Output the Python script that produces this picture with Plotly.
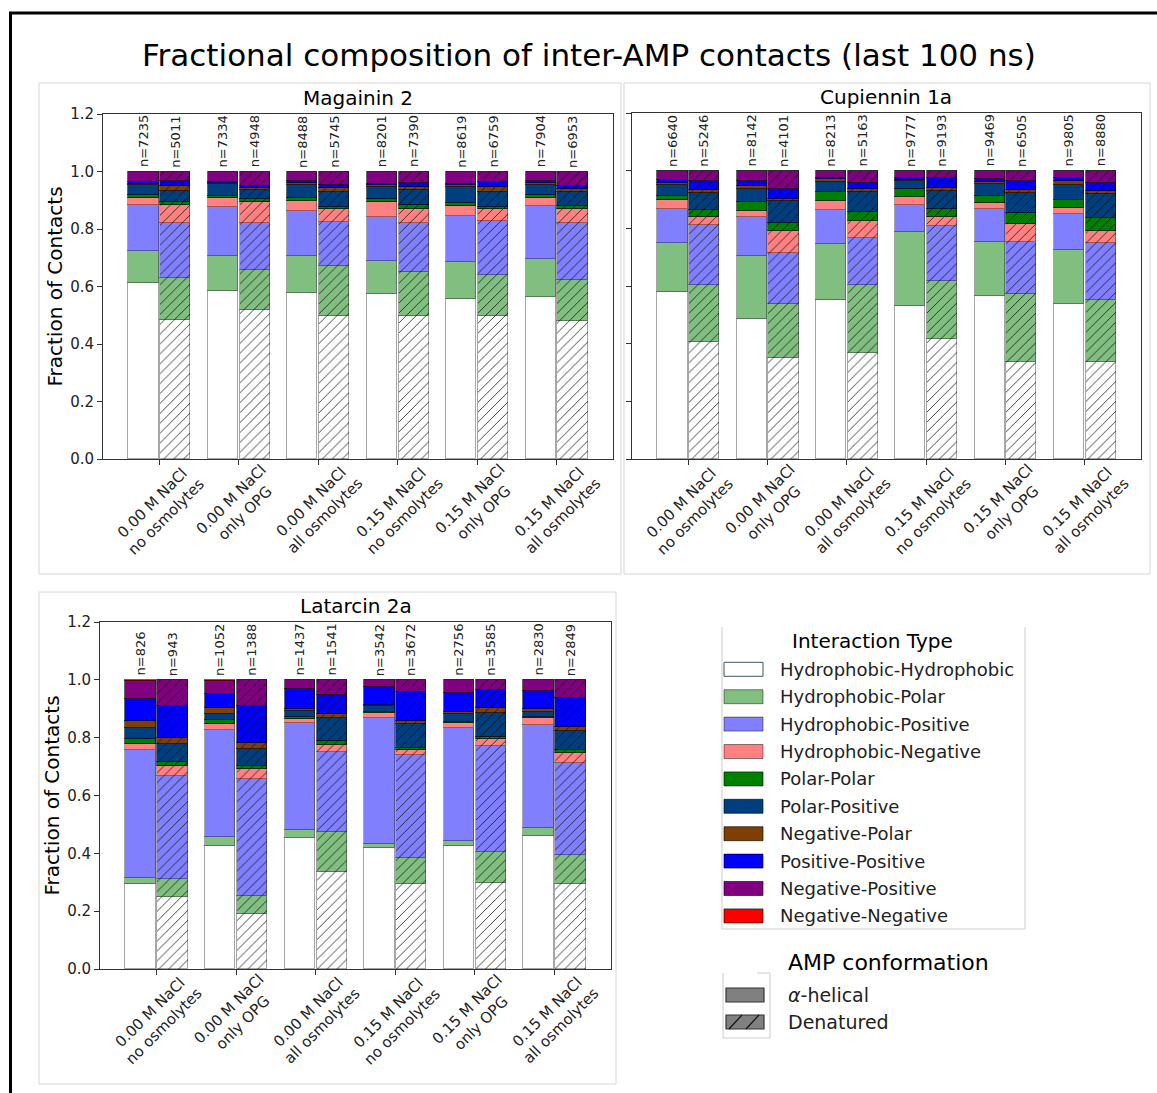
import plotly.graph_objects as go

W, H = 1157, 1093

# ---------------------------------------------------------------- data
INTERACTIONS = [
    "Hydrophobic-Hydrophobic", "Hydrophobic-Polar", "Hydrophobic-Positive",
    "Hydrophobic-Negative", "Polar-Polar", "Polar-Positive", "Negative-Polar",
    "Positive-Positive", "Negative-Positive", "Negative-Negative",
]
COLORS = [
    "#ffffff", "#80bf80", "#8080ff", "#ff8080", "#008000",
    "#003f7f", "#7f3f00", "#0000ff", "#800080", "#ff0000",
]
CONDITIONS = [
    "0.00 M NaCl<br>no osmolytes", "0.00 M NaCl<br>only OPG", "0.00 M NaCl<br>all osmolytes",
    "0.15 M NaCl<br>no osmolytes", "0.15 M NaCl<br>only OPG", "0.15 M NaCl<br>all osmolytes",
]
Y_TICKS = [0.0, 0.2, 0.4, 0.6, 0.8, 1.0, 1.2]

# fraction of contacts per interaction type (order of INTERACTIONS), one row per condition
MAG_HELICAL = [
    [0.612, 0.110, 0.160, 0.027, 0.009, 0.034, 0.005, 0.007, 0.036, 0.0],
    [0.585, 0.121, 0.172, 0.029, 0.008, 0.040, 0.006, 0.003, 0.036, 0.0],
    [0.577, 0.129, 0.155, 0.037, 0.010, 0.044, 0.007, 0.008, 0.033, 0.0],
    [0.575, 0.115, 0.153, 0.050, 0.010, 0.044, 0.006, 0.004, 0.043, 0.0],
    [0.558, 0.126, 0.161, 0.035, 0.009, 0.057, 0.007, 0.002, 0.045, 0.0],
    [0.563, 0.131, 0.187, 0.027, 0.009, 0.036, 0.007, 0.006, 0.034, 0.0],
]
MAG_DENATURED = [
    [0.484, 0.146, 0.191, 0.064, 0.010, 0.038, 0.015, 0.020, 0.032, 0.0],
    [0.518, 0.138, 0.164, 0.075, 0.009, 0.031, 0.008, 0.007, 0.050, 0.0],
    [0.496, 0.176, 0.151, 0.046, 0.009, 0.050, 0.015, 0.011, 0.046, 0.0],
    [0.496, 0.155, 0.170, 0.049, 0.014, 0.050, 0.013, 0.013, 0.040, 0.0],
    [0.496, 0.145, 0.187, 0.040, 0.009, 0.052, 0.017, 0.017, 0.037, 0.0],
    [0.481, 0.142, 0.198, 0.049, 0.010, 0.050, 0.009, 0.012, 0.049, 0.0],
]
MAG_N_HELICAL = [7235, 7334, 8488, 8201, 8619, 7904]
MAG_N_DENATURED = [5011, 4948, 5745, 7390, 6759, 6953]

CUP_HELICAL = [
    [0.579, 0.169, 0.118, 0.032, 0.015, 0.038, 0.007, 0.010, 0.032, 0.0],
    [0.487, 0.216, 0.135, 0.023, 0.031, 0.046, 0.009, 0.016, 0.037, 0.0],
    [0.553, 0.194, 0.118, 0.029, 0.032, 0.036, 0.008, 0.006, 0.024, 0.0],
    [0.531, 0.256, 0.095, 0.025, 0.028, 0.028, 0.005, 0.006, 0.026, 0.0],
    [0.564, 0.190, 0.112, 0.022, 0.025, 0.040, 0.006, 0.011, 0.030, 0.0],
    [0.538, 0.186, 0.125, 0.020, 0.030, 0.051, 0.013, 0.011, 0.026, 0.0],
]
CUP_DENATURED = [
    [0.405, 0.200, 0.206, 0.028, 0.023, 0.061, 0.009, 0.033, 0.035, 0.0],
    [0.351, 0.186, 0.179, 0.074, 0.030, 0.074, 0.009, 0.032, 0.065, 0.0],
    [0.367, 0.235, 0.166, 0.058, 0.032, 0.067, 0.011, 0.022, 0.042, 0.0],
    [0.415, 0.203, 0.191, 0.030, 0.029, 0.063, 0.010, 0.032, 0.027, 0.0],
    [0.338, 0.235, 0.181, 0.061, 0.037, 0.070, 0.012, 0.030, 0.036, 0.0],
    [0.338, 0.215, 0.195, 0.043, 0.046, 0.081, 0.011, 0.027, 0.044, 0.0],
]
CUP_N_HELICAL = [6640, 8142, 8213, 9777, 9469, 9805]
CUP_N_DENATURED = [5246, 4101, 5163, 9193, 6505, 8880]

LAT_HELICAL = [
    [0.294, 0.022, 0.443, 0.020, 0.016, 0.040, 0.024, 0.076, 0.062, 0.003],
    [0.427, 0.028, 0.370, 0.022, 0.013, 0.021, 0.021, 0.050, 0.045, 0.003],
    [0.454, 0.028, 0.368, 0.013, 0.008, 0.020, 0.008, 0.068, 0.031, 0.002],
    [0.420, 0.011, 0.438, 0.016, 0.003, 0.021, 0.004, 0.062, 0.023, 0.002],
    [0.424, 0.020, 0.388, 0.019, 0.002, 0.030, 0.005, 0.068, 0.042, 0.002],
    [0.459, 0.027, 0.359, 0.024, 0.003, 0.018, 0.009, 0.062, 0.037, 0.002],
]
LAT_DENATURED = [
    [0.249, 0.062, 0.355, 0.037, 0.014, 0.060, 0.023, 0.108, 0.090, 0.002],
    [0.191, 0.062, 0.404, 0.035, 0.009, 0.060, 0.021, 0.126, 0.090, 0.002],
    [0.336, 0.138, 0.277, 0.022, 0.017, 0.077, 0.016, 0.064, 0.051, 0.002],
    [0.294, 0.091, 0.355, 0.018, 0.008, 0.080, 0.011, 0.101, 0.040, 0.002],
    [0.297, 0.108, 0.365, 0.024, 0.009, 0.082, 0.018, 0.063, 0.032, 0.002],
    [0.294, 0.100, 0.317, 0.035, 0.012, 0.066, 0.014, 0.099, 0.061, 0.002],
]
LAT_N_HELICAL = [826, 1052, 1437, 3542, 2756, 2830]
LAT_N_DENATURED = [943, 1388, 1541, 3672, 3585, 2849]

# ---------------------------------------------------------------- layout helpers
FONT = "DejaVu Sans"
INK = "#222222"


def fx(px):
    return px / W


def fy(py):
    return 1 - py / H


# (title, helical, denatured, n helical, n denatured, axis suffix, x px span, y px span, y labels)
PANELS = [
    ("Magainin 2", MAG_HELICAL, MAG_DENATURED, MAG_N_HELICAL, MAG_N_DENATURED, "", (103, 613), (114, 459), True),
    ("Cupiennin 1a", CUP_HELICAL, CUP_DENATURED, CUP_N_HELICAL, CUP_N_DENATURED, "2", (632, 1141), (113, 459), False),
    ("Latarcin 2a", LAT_HELICAL, LAT_DENATURED, LAT_N_HELICAL, LAT_N_DENATURED, "3", (100, 611), (622, 969), True),
]

OFFSET = 0.2
BAR_W = 0.38
EDGE_SOFT = "rgba(0,0,0,0.35)"
EDGE_HARD = "rgba(0,0,0,0.6)"

fig = go.Figure()
annotations = []
shapes = []
layout_axes = {}

for title, helical, denatured, n_hel, n_den, sfx, (x0, x1), (y0, y1), show_y in PANELS:
    groups = list(range(len(CONDITIONS)))
    for conf_rows, off, hatched, counts in (
        (helical, -OFFSET, False, n_hel),
        (denatured, OFFSET, True, n_den),
    ):
        xs = [g + off for g in groups]
        for k, name in enumerate(INTERACTIONS):
            pattern = dict(shape="")
            if hatched:
                pattern = dict(shape="/", fillmode="overlay", fgcolor="#111111",
                               fgopacity=0.85, size=7, solidity=0.13)
            fig.add_trace(go.Bar(
                x=xs,
                y=[row[k] for row in conf_rows],
                width=BAR_W,
                name=name,
                marker=dict(color=COLORS[k],
                            line=dict(color=EDGE_SOFT if k < 4 else EDGE_HARD, width=1),
                            pattern=pattern),
                xaxis="x" + sfx,
                yaxis="y" + sfx,
                showlegend=False,
                hoverinfo="skip",
            ))
        # contact counts above each bar
        for xv, nv in zip(xs, counts):
            annotations.append(dict(
                x=xv, y=1.0, xref="x" + sfx, yref="y" + sfx,
                text=f"n={nv}", textangle=-90, showarrow=False,
                xanchor="center", yanchor="bottom", yshift=2,
                font=dict(family=FONT, size=13, color=INK),
            ))

    # condition labels, rotated and centred under each tick
    for g, label in zip(groups, CONDITIONS):
        annotations.append(dict(
            x=g, y=0, xref="x" + sfx, yref="y" + sfx,
            text=label, textangle=-45, showarrow=False,
            xanchor="center", yanchor="top", yshift=1, align="center",
            font=dict(family=FONT, size=15, color=INK),
        ))

    axis_common = dict(showline=True, mirror=True, linecolor="#333333", linewidth=1,
                       ticks="outside", ticklen=5, tickwidth=1, tickcolor="#333333",
                       showgrid=False, zeroline=False, fixedrange=True, automargin=False)
    layout_axes["xaxis" + sfx] = dict(
        axis_common, domain=[fx(x0), fx(x1)], range=[-0.71, 5.71],
        tickvals=groups, showticklabels=False, anchor="y" + sfx,
    )
    layout_axes["yaxis" + sfx] = dict(
        axis_common, domain=[fy(y1), fy(y0)], range=[0, 1.2],
        tickvals=Y_TICKS, ticktext=[f"{v:.1f}" for v in Y_TICKS],
        showticklabels=show_y,
        tickfont=dict(family=FONT, size=15, color=INK), anchor="x" + sfx,
    )
    # subplot title
    annotations.append(dict(
        x=fx((x0 + x1) / 2), y=fy(y0 - 16), xref="paper", yref="paper",
        text=title, showarrow=False, xanchor="center", yanchor="middle",
        font=dict(family=FONT, size=20, color="black"),
    ))
    if show_y:
        annotations.append(dict(
            x=fx(x0 - 49), y=fy((y0 + y1) / 2), xref="paper", yref="paper",
            text="Fraction of Contacts", textangle=-90, showarrow=False,
            xanchor="center", yanchor="middle",
            font=dict(family=FONT, size=20, color="black"),
        ))

# main title
annotations.append(dict(
    x=fx(589), y=fy(55), xref="paper", yref="paper",
    text="Fractional composition of inter-AMP contacts (last 100 ns)",
    showarrow=False, xanchor="center", yanchor="middle",
    font=dict(family=FONT, size=31, color="black"),
))


def rect(px0, py0, px1, py1, **kw):
    return dict(type="rect", xref="paper", yref="paper",
                x0=fx(px0), x1=fx(px1), y0=fy(py1), y1=fy(py0), **kw)


def seg(px0, py0, px1, py1, color, width=1):
    return dict(type="line", xref="paper", yref="paper",
                x0=fx(px0), y0=fy(py0), x1=fx(px1), y1=fy(py1),
                line=dict(color=color, width=width))


# outer frame and the light panel frames
shapes.append(rect(10.5, 13, 1170, 1110, line=dict(color="black", width=3)))
PANEL_EDGE = "#d6d6d6"
shapes.append(rect(39, 83, 621, 574, line=dict(color=PANEL_EDGE, width=1)))
shapes.append(rect(624, 83, 1150, 574, line=dict(color=PANEL_EDGE, width=1)))
shapes.append(rect(39, 592, 616, 1084, line=dict(color=PANEL_EDGE, width=1)))

# legend: interaction type
LEG_EDGE = "#cccccc"
shapes += [seg(722, 627, 722, 929, LEG_EDGE), seg(1025, 627, 1025, 929, LEG_EDGE),
           seg(722, 929, 1025, 929, LEG_EDGE)]
annotations.append(dict(
    x=fx(872), y=fy(641), xref="paper", yref="paper", text="Interaction Type",
    showarrow=False, xanchor="center", yanchor="middle",
    font=dict(family=FONT, size=20, color="black"),
))
for i, (name, col) in enumerate(zip(INTERACTIONS, COLORS)):
    cy = 669.3 + 27.4 * i
    edge = "#3f5560" if i == 0 else ("rgba(0,0,0,0.45)" if i < 4 else "rgba(0,0,0,0.6)")
    shapes.append(rect(724, cy - 7, 763, cy + 7, fillcolor=col, line=dict(color=edge, width=1)))
    annotations.append(dict(
        x=fx(778), y=fy(cy), xref="paper", yref="paper", text=name,
        showarrow=False, xanchor="left", yanchor="middle",
        font=dict(family=FONT, size=18, color=INK),
    ))

# legend: AMP conformation
shapes += [seg(723, 973, 723, 1038, LEG_EDGE), seg(770, 973, 770, 1038, LEG_EDGE),
           seg(723, 1038, 770, 1038, LEG_EDGE), seg(757, 973, 770, 973, LEG_EDGE)]
annotations.append(dict(
    x=fx(786), y=fy(962), xref="paper", yref="paper", text="AMP conformation",
    showarrow=False, xanchor="left", yanchor="middle",
    font=dict(family=FONT, size=22, color="black"),
))
CONFORMATIONS = ["<i>α</i>-helical", "Denatured"]
for j, label in enumerate(CONFORMATIONS):
    cy = 995 + 27 * j
    shapes.append(rect(726, cy - 7, 764, cy + 7, fillcolor="#808080",
                       line=dict(color="#333333", width=1.2)))
    if j == 1:
        shapes.append(seg(729, cy + 7, 742, cy - 7, "#111111", 1.2))
        shapes.append(seg(746, cy + 7, 759, cy - 7, "#111111", 1.2))
    annotations.append(dict(
        x=fx(786), y=fy(cy), xref="paper", yref="paper", text=label,
        showarrow=False, xanchor="left", yanchor="middle",
        font=dict(family=FONT, size=19, color=INK),
    ))

fig.update_layout(
    width=W, height=H, autosize=False,
    margin=dict(l=0, r=0, t=0, b=0, pad=0, autoexpand=False),
    paper_bgcolor="white", plot_bgcolor="white",
    barmode="stack", bargap=0,
    font=dict(family=FONT, color=INK),
    annotations=annotations, shapes=shapes,
    **layout_axes,
)

fig.write_html("out.html")
